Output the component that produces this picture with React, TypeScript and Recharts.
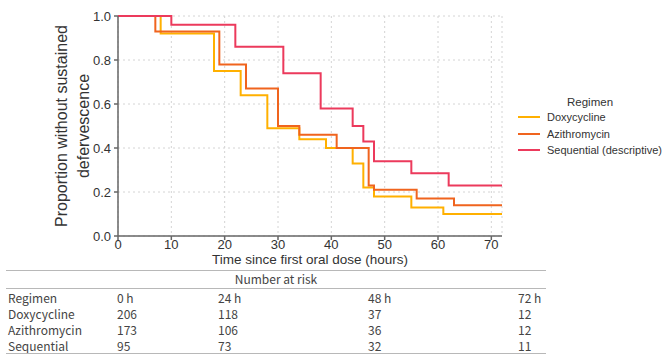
import React from 'react';
import { LineChart, Line, XAxis, YAxis, CartesianGrid } from 'recharts';

// Kaplan–Meier style step curves
const doxyHours = [0, 8, 18, 23, 28, 34, 39, 44, 46, 48, 55, 61, 72];
const doxySurv = [1.0, 0.92, 0.75, 0.64, 0.49, 0.44, 0.4, 0.33, 0.22, 0.18, 0.13, 0.1, 0.1];

const aziHours = [0, 7, 19, 24, 30, 34, 41, 47, 48, 56, 63, 72];
const aziSurv = [1.0, 0.93, 0.78, 0.67, 0.5, 0.46, 0.4, 0.23, 0.21, 0.17, 0.14, 0.14];

const seqHours = [0, 10, 22, 31, 38, 44, 46, 48, 55, 62, 72];
const seqSurv = [1.0, 0.96, 0.86, 0.74, 0.58, 0.5, 0.43, 0.34, 0.285, 0.23, 0.23];

const xTicks = [0, 10, 20, 30, 40, 50, 60, 70];
const yTicks = [0, 0.2, 0.4, 0.6, 0.8, 1.0];

// number-at-risk table
const riskHeaders = ['0 h', '24 h', '48 h', '72 h'];
const doxyRisk = [206, 118, 37, 12];
const aziRisk = [173, 106, 36, 12];
const seqRisk = [95, 73, 32, 11];

const series = [
  { name: 'Doxycycline', color: '#FFB000', hours: doxyHours, surv: doxySurv },
  { name: 'Azithromycin', color: '#F0641E', hours: aziHours, surv: aziSurv },
  { name: 'Sequential (descriptive)', color: '#EC3A5C', hours: seqHours, surv: seqSurv },
];

const riskRows = [
  { label: 'Doxycycline', values: doxyRisk },
  { label: 'Azithromycin', values: aziRisk },
  { label: 'Sequential', values: seqRisk },
];

const toPoints = (hours: number[], surv: number[]) => hours.map((t, i) => ({ t, s: surv[i] }));

const FONT = "'Liberation Sans', Arial, sans-serif";
const TABLE_FONT = "'Noto Sans CJK SC', 'Liberation Sans', sans-serif";

const YLabel = (props: any) => {
  const { viewBox } = props;
  const cy = viewBox.y + viewBox.height / 2;
  const x1 = 61;
  const x2 = 83;
  return (
    <g fill="#333" fontSize={16} fontFamily={FONT}>
      <text x={x1} y={cy} transform={`rotate(-90 ${x1} ${cy})`} textAnchor="middle" dominantBaseline="central">
        Proportion without sustained
      </text>
      <text x={x2} y={cy} transform={`rotate(-90 ${x2} ${cy})`} textAnchor="middle" dominantBaseline="central">
        defervescence
      </text>
    </g>
  );
};

const XLabel = (props: any) => {
  const { viewBox } = props;
  return (
    <text
      x={viewBox.x + viewBox.width / 2}
      y={259}
      textAnchor="middle"
      dominantBaseline="central"
      fill="#333"
      fontSize={13.5}
      fontFamily={FONT}
    >
      Time since first oral dose (hours)
    </text>
  );
};

const tableCols = [117, 218, 368, 518];
const rowY = [298, 314, 330, 346];

const cell = (left: number, cy: number): React.CSSProperties => ({
  position: 'absolute',
  left,
  top: cy - 7,
  height: 14,
  lineHeight: '14px',
  fontSize: 12,
  color: '#444',
  fontFamily: TABLE_FONT,
  whiteSpace: 'nowrap',
});

export default function App() {
  return (
    <div style={{ position: 'absolute', left: 0, top: 0, width: 665, height: 354, background: '#fff', fontFamily: FONT, overflow: 'hidden' }}>
      <LineChart
        width={665}
        height={354}
        margin={{ top: 16, right: 163, bottom: 88, left: 58 }}
      >
        <CartesianGrid stroke="#d4d4d4" strokeDasharray="2 3" strokeWidth={1} />
        <XAxis
          dataKey="t"
          type="number"
          domain={[0, 72]}
          ticks={xTicks}
          allowDataOverflow
          height={30}
          tickSize={4}
          tickMargin={0}
          stroke="#666"
          strokeWidth={1.5}
          tick={{ fill: '#333', fontSize: 13, fontFamily: FONT }}
          label={<XLabel />}
        />
        <YAxis
          dataKey="s"
          type="number"
          domain={[0, 1]}
          ticks={yTicks}
          width={60}
          tickSize={4}
          tickMargin={3}
          stroke="#666"
          strokeWidth={1.5}
          tickFormatter={(v: number) => v.toFixed(1)}
          tick={{ fill: '#333', fontSize: 13, fontFamily: FONT }}
          label={<YLabel />}
        />
        {series.map((s) => (
          <Line
            key={s.name}
            data={toPoints(s.hours, s.surv)}
            dataKey="s"
            name={s.name}
            type="stepAfter"
            stroke={s.color}
            strokeWidth={2}
            dot={false}
            activeDot={false}
            isAnimationActive={false}
          />
        ))}
      </LineChart>

      {/* legend */}
      <div style={{ position: 'absolute', left: 567, top: 95, fontSize: 11.5, lineHeight: '14px', color: '#333' }}>Regimen</div>
      {series.map((s, i) => (
        <div key={s.name} style={{ position: 'absolute', left: 518, top: 110 + i * 16.5, height: 14, display: 'flex', alignItems: 'center', whiteSpace: 'nowrap' }}>
          <span style={{ display: 'inline-block', width: 22, height: 2, background: s.color, marginRight: 7 }} />
          <span style={{ fontSize: 11, lineHeight: '14px', color: '#333' }}>{s.name}</span>
        </div>
      ))}

      {/* number at risk table */}
      <div style={{ position: 'absolute', left: 6, top: 270, width: 540, height: 1, background: '#b8b8b8' }} />
      <div style={{ position: 'absolute', left: 6, top: 272, width: 540, height: 14, textAlign: 'center', fontSize: 12, lineHeight: '14px', color: '#444', fontFamily: TABLE_FONT }}>
        Number at risk
      </div>
      <div style={{ position: 'absolute', left: 6, top: 288, width: 540, height: 1, background: '#b8b8b8' }} />
      <div style={cell(8, rowY[0])}>Regimen</div>
      {riskHeaders.map((h, j) => (
        <div key={h} style={cell(tableCols[j], rowY[0])}>{h}</div>
      ))}
      {riskRows.map((r, i) => (
        <React.Fragment key={r.label}>
          <div style={cell(8, rowY[i + 1])}>{r.label}</div>
          {r.values.map((v, j) => (
            <div key={j} style={cell(tableCols[j], rowY[i + 1])}>{v}</div>
          ))}
        </React.Fragment>
      ))}
      <div style={{ position: 'absolute', left: 6, top: 353, width: 540, height: 1, background: '#b8b8b8' }} />
    </div>
  );
}
